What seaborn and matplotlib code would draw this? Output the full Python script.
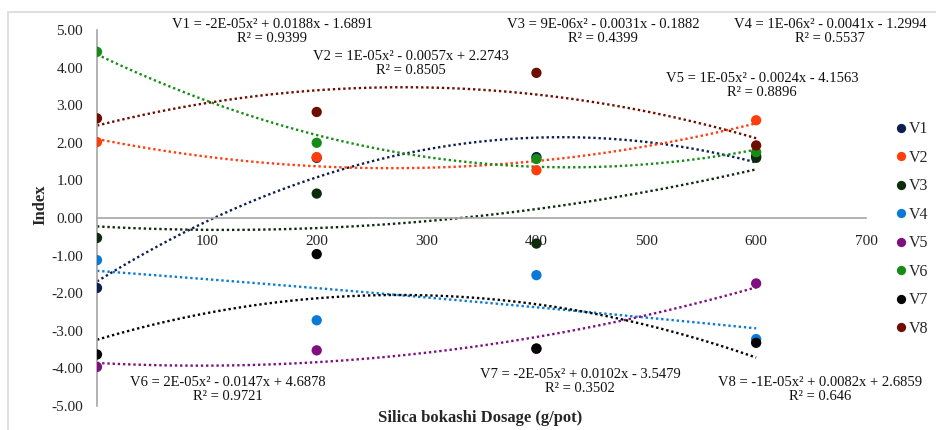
import seaborn as sns
import numpy as np
import pandas as pd
import matplotlib.pyplot as plt
from matplotlib.patches import Rectangle

dosage = [0, 200, 400, 600]
V1 = [-1.86, 1.60, 1.62, 1.65]
V2 = [2.02, 1.62, 1.27, 2.60]
V3 = [-0.53, 0.65, -0.68, 1.60]
V4 = [-1.12, -2.72, -1.52, -3.22]
V5 = [-3.96, -3.52, -3.48, -1.74]
V6 = [4.42, 2.00, 1.57, 1.75]
V7 = [-3.63, -0.96, -3.47, -3.32]
V8 = [2.65, 2.82, 3.86, 1.93]

names = ["V1", "V2", "V3", "V4", "V5", "V6", "V7", "V8"]
colors = ["#0d1f4f", "#ff3d0d", "#0d2b0d", "#0a7ad6", "#7f0f7f", "#168c16", "#050505", "#6e0d00"]

equations = [
    "V1 = -2E-05x\u00b2 + 0.0188x - 1.6891\nR\u00b2 = 0.9399",
    "V2 = 1E-05x\u00b2 - 0.0057x + 2.2743\nR\u00b2 = 0.8505",
    "V3 = 9E-06x\u00b2 - 0.0031x - 0.1882\nR\u00b2 = 0.4399",
    "V4 = 1E-06x\u00b2 - 0.0041x - 1.2994\nR\u00b2 = 0.5537",
    "V5 = 1E-05x\u00b2 - 0.0024x - 4.1563\nR\u00b2 = 0.8896",
    "V6 = 2E-05x\u00b2 - 0.0147x + 4.6878\nR\u00b2 = 0.9721",
    "V7 = -2E-05x\u00b2 + 0.0102x - 3.5479\nR\u00b2 = 0.3502",
    "V8 = -1E-05x\u00b2 + 0.0082x + 2.6859\nR\u00b2 = 0.646",
]
# label centres in pixels (x, y from top)
eq_pos = [(272, 32), (411, 63), (603, 32), (830, 32), (762, 85), (228, 390), (580, 382), (820, 390)]

series = [V1, V2, V3, V4, V5, V6, V7, V8]
df = pd.DataFrame({
    "dose": dosage * len(names),
    "index": np.concatenate(series),
    "var": np.repeat(names, len(dosage)),
})

sns.set_style("white")
plt.rcParams['font.family'] = ['Liberation Serif', 'DejaVu Serif']

W, H = 936, 430
fig = plt.figure(figsize=(W / 100, H / 100), dpi=100)
ax = fig.add_axes([97 / W, 1 - 406 / H, (866 - 97) / W, (406 - 30) / H])

# quadratic trendlines
for name, c in zip(names, colors):
    sub = df[df["var"] == name]
    sns.regplot(data=sub, x="dose", y="index", order=2, ci=None, scatter=False, ax=ax,
                line_kws=dict(color=c, linestyle=(0, (1, 1.2)), linewidth=1.7))

sns.scatterplot(data=df, x="dose", y="index", hue="var", palette=colors, s=55,
                edgecolor="none", ax=ax, zorder=5, legend=True)

ax.set_xlim(0, 700)
ax.set_ylim(-5, 5)
ax.set_yticks(np.arange(-5, 5.1, 1))
ax.set_yticklabels([f"{v:.2f}" for v in np.arange(-5, 5.1, 1)])
ax.set_xticks([100, 200, 300, 400, 500, 600, 700])
ax.tick_params(axis="both", length=0, labelsize=11, colors="#222222")
ax.tick_params(axis="x", pad=12)
ax.tick_params(axis="y", pad=10)

for s in ["top", "right"]:
    ax.spines[s].set_visible(False)
ax.spines["bottom"].set_position(("data", 0))
ax.spines["left"].set_position(("data", 0))
for s in ["bottom", "left"]:
    ax.spines[s].set_color("#a6a6a6")
    ax.spines[s].set_linewidth(1.2)

ax.set_xlabel("Silica bokashi Dosage (g/pot)", fontsize=12, fontweight="bold")
ax.set_ylabel("Index", fontsize=12, fontweight="bold")
ax.xaxis.set_label_coords((480 - 97) / (866 - 97), -(410 - 406) / (406 - 30))
ax.yaxis.set_label_coords(-(97 - 48) / (866 - 97), (406 - 205) / (406 - 30))

for txt, (px, py) in zip(equations, eq_pos):
    fig.text(px / W, 1 - py / H, txt, ha="center", va="center", fontsize=10.5,
             linespacing=1.1, color="#111111")

handles, labels = ax.get_legend_handles_labels()
ax.legend(handles, labels, loc="center left", bbox_to_anchor=(895 / W, 1 - 229 / H),
          bbox_transform=fig.transFigure, frameon=False, fontsize=11.5,
          handlelength=0.7, handletextpad=0.15, labelspacing=0.78, markerscale=0.9,
          borderaxespad=0, borderpad=0)

fig.patches.append(Rectangle((8 / W, -0.01), 1.0, 1 - 12 / H + 0.01, transform=fig.transFigure,
                             fill=False, edgecolor="#d9d9d9", linewidth=1.2))

fig.savefig("out.png", dpi=100)
